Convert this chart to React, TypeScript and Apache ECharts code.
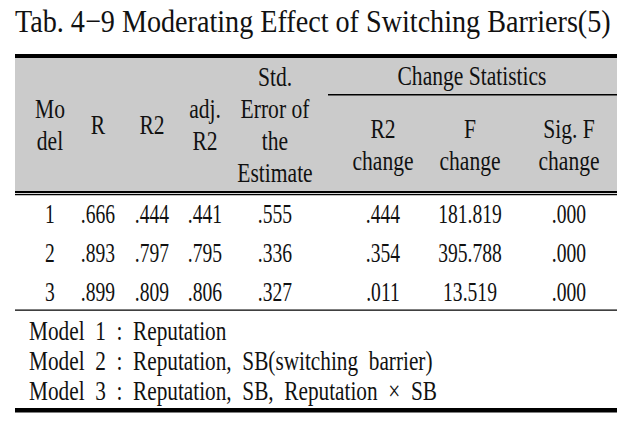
import React, { useEffect, useRef } from "react";
import * as echarts from "echarts";

const title = "Tab. 4\u22129 Moderating Effect of Switching Barriers(5)";
const headerLeft = [
  { lines: ["Mo", "del"] },
  { lines: ["R"] },
  { lines: ["R2"] },
  { lines: ["adj.", "R2"] },
  { lines: ["Std.", "Error of", "the", "Estimate"] },
];
const groupHeader = "Change Statistics";
const headerRight = [
  { lines: ["R2", "change"] },
  { lines: ["F", "change"] },
  { lines: ["Sig. F", "change"] },
];
const models = ["1", "2", "3"];
const rValues = [".666", ".893", ".899"];
const r2Values = [".444", ".797", ".809"];
const adjR2Values = [".441", ".795", ".806"];
const stdErrValues = [".555", ".336", ".327"];
const r2ChangeValues = [".444", ".354", ".011"];
const fChangeValues = ["181.819", "395.788", "13.519"];
const sigFValues = [".000", ".000", ".000"];
const footnotes = [
  "Model 1 : Reputation",
  "Model 2 : Reputation, SB(switching barrier)",
  "Model 3 : Reputation, SB, Reputation \u00d7 SB",
];

const FONT = "'Liberation Serif', 'DejaVu Serif', serif";
const colX = [50, 98, 152, 205, 275, 383, 470, 569];
const rowY = [213, 252, 291];

function txt(text: string, x: number, y: number, align: string, size: number, sx: number) {
  return {
    type: "text",
    x,
    y,
    scaleX: sx,
    scaleY: 1,
    originX: 0,
    originY: 0,
    style: {
      x: 0,
      y: 0,
      text,
      fill: "#111",
      font: `${size}px ${FONT}`,
      align,
      verticalAlign: "middle",
    },
  };
}

function rect(x: number, y: number, w: number, h: number, fill: string) {
  return { type: "rect", shape: { x, y, width: w, height: h }, style: { fill } };
}

export default function App() {
  const ref = useRef<HTMLDivElement>(null);
  useEffect(() => {
    document.body.style.margin = "0";
    const chart = echarts.init(ref.current!, null, { renderer: "svg" });
    const els: any[] = [];
    els.push(rect(15, 58, 602, 133, "#cbcbcb"));
    els.push(rect(15, 54, 602, 4, "#000"));
    els.push(rect(328, 94, 289, 1.6, "#000"));
    els.push(rect(15, 191, 602, 2, "#000"));
    els.push(rect(15, 193, 602, 1, "#d6d6d6"));
    els.push(rect(15, 194, 602, 1.3, "#000"));
    els.push(rect(15, 309.5, 602, 1.3, "#000"));
    els.push(rect(15, 408, 602, 4.5, "#000"));
    els.push(txt(title, 15, 21, "left", 32, 0.88));

    const HS = 28;
    const HSX = 0.77;
    const lh = 32;
    const midY = 124;
    headerLeft.forEach((h, i) => {
      const n = h.lines.length;
      h.lines.forEach((l, j) => {
        els.push(txt(l, colX[i], midY + (j - (n - 1) / 2) * lh, "center", HS, HSX));
      });
    });
    els.push(txt(groupHeader, 472, 75, "center", HS, HSX));
    headerRight.forEach((h, i) => {
      h.lines.forEach((l, j) => {
        els.push(txt(l, colX[5 + i], 128 + j * lh, "center", HS, HSX));
      });
    });
    const cols = [models, rValues, r2Values, adjR2Values, stdErrValues, r2ChangeValues, fChangeValues, sigFValues];
    cols.forEach((col, c) => {
      col.forEach((v, r) => {
        els.push(txt(v, colX[c], rowY[r], "center", 28, 0.7));
      });
    });
    footnotes.forEach((f, i) => {
      els.push(txt(f.replace(/ /g, "\u2002"), 29, 330 + i * 30, "left", 28, 0.76));
    });

    chart.setOption({
      animation: false,
      backgroundColor: "#fff",
      graphic: { elements: els },
    });
    return () => chart.dispose();
  }, []);
  return <div ref={ref} style={{ width: 632, height: 432 }} />;
}
